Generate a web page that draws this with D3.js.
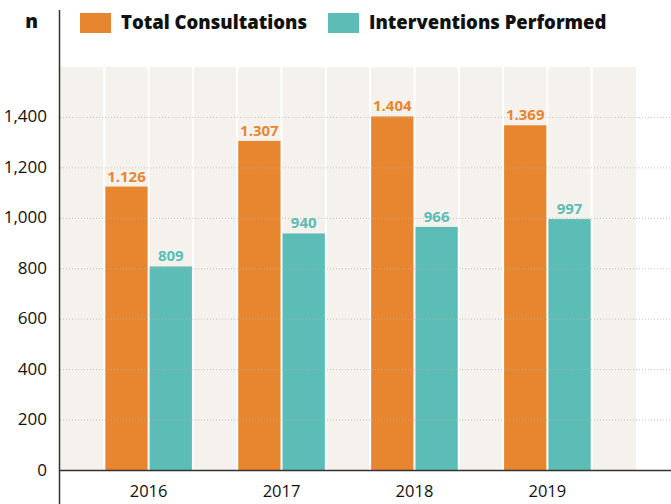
<!DOCTYPE html>
<html>
<head>
<meta charset="utf-8">
<script src="https://cdn.jsdelivr.net/npm/d3@7"></script>
<style>
  html, body { margin: 0; padding: 0; background: #fff; }
  svg { display: block; font-family: "Open Sans", sans-serif; }
</style>
</head>
<body>
<svg id="chart" width="671" height="504"></svg>
<script>
const years = ["2016", "2017", "2018", "2019"];
const totalConsultations = [1126, 1307, 1404, 1369];
const interventionsPerformed = [809, 940, 966, 997];
const totalLabels = ["1.126", "1.307", "1.404", "1.369"];
const interventionLabels = ["809", "940", "966", "997"];
const yTicks = [0, 200, 400, 600, 800, 1000, 1200, 1400];
const seriesNames = ["Total Consultations", "Interventions Performed"];
const colors = ["#E8862F", "#5BBDB5"];

const svg = d3.select("#chart");
const plotL = 60, plotR = 636, plotT = 67, plotB = 470.5;

const x = d3.scaleBand().domain(years).range([plotL, plotR]).paddingInner(1/3).paddingOuter(1/3);
const y = d3.scaleLinear().domain([0, 1600]).range([plotB, plotT]);
const bw = x.bandwidth();

// background
svg.append("rect").attr("x", plotL).attr("y", plotT).attr("width", plotR - plotL).attr("height", plotB - plotT).attr("fill", "#F5F2EE");

// bars
years.forEach((yr, i) => {
  svg.append("rect").attr("x", x(yr)).attr("y", y(totalConsultations[i]))
    .attr("width", bw / 2).attr("height", y(0) - y(totalConsultations[i])).attr("fill", colors[0]);
  svg.append("rect").attr("x", x(yr) + bw / 2).attr("y", y(interventionsPerformed[i]))
    .attr("width", bw / 2).attr("height", y(0) - y(interventionsPerformed[i])).attr("fill", colors[1]);
});

// white vertical column separators
const vx = [];
years.forEach(yr => { vx.push(x(yr), x(yr) + bw / 2, x(yr) + bw); });
svg.selectAll(".vsep").data(vx).enter().append("line")
  .attr("x1", d => d).attr("x2", d => d).attr("y1", plotT).attr("y2", plotB)
  .attr("stroke", "#fff").attr("stroke-width", 2);

// horizontal dotted gridlines
svg.selectAll(".hgrid").data(yTicks.filter(d => d > 0)).enter().append("line")
  .attr("x1", plotL).attr("x2", 671).attr("y1", d => y(d)).attr("y2", d => y(d))
  .attr("stroke", "#b8b4ae").attr("stroke-width", 1).attr("stroke-dasharray", "1,2").attr("opacity", 0.8);

// y tick labels
svg.selectAll(".ytick").data(yTicks).enter().append("text")
  .attr("x", 47).attr("y", d => y(d) + 5).attr("text-anchor", "end")
  .attr("font-size", 17).attr("fill", "#111")
  .text(d => d3.format(",")(d));

// axes lines
svg.append("line").attr("x1", plotL).attr("x2", 671).attr("y1", plotB).attr("y2", plotB)
  .attr("stroke", "#333").attr("stroke-width", 1.5);
svg.append("line").attr("x1", 59.5).attr("x2", 59.5).attr("y1", 10).attr("y2", 504)
  .attr("stroke", "#333").attr("stroke-width", 1.5);

// year labels
svg.selectAll(".xtick").data(years).enter().append("text")
  .attr("x", d => x(d) + bw / 2).attr("y", 497).attr("text-anchor", "middle")
  .attr("font-size", 16.5).attr("fill", "#111").text(d => d);

// value labels
years.forEach((yr, i) => {
  svg.append("text").attr("x", x(yr) + bw / 4).attr("y", y(totalConsultations[i]) - 5)
    .attr("text-anchor", "middle").attr("font-size", 15).attr("font-weight", 700)
    .attr("fill", colors[0]).text(totalLabels[i]);
  svg.append("text").attr("x", x(yr) + bw * 3 / 4).attr("y", y(interventionsPerformed[i]) - 5)
    .attr("text-anchor", "middle").attr("font-size", 15).attr("font-weight", 700)
    .attr("fill", colors[1]).text(interventionLabels[i]);
});

// "n" label
svg.append("text").attr("x", 31.5).attr("y", 28).attr("text-anchor", "middle")
  .attr("font-size", 19).attr("font-weight", 800).attr("fill", "#111").text("n");

// legend
const legX = [80, 328];
seriesNames.forEach((name, i) => {
  svg.append("rect").attr("x", legX[i]).attr("y", 13).attr("width", 31).attr("height", 20).attr("fill", colors[i]);
  svg.append("text").attr("x", legX[i] + 41).attr("y", 29)
    .attr("font-size", 18.5).attr("font-weight", 800).attr("fill", "#111").text(name);
});
</script>
</body>
</html>
